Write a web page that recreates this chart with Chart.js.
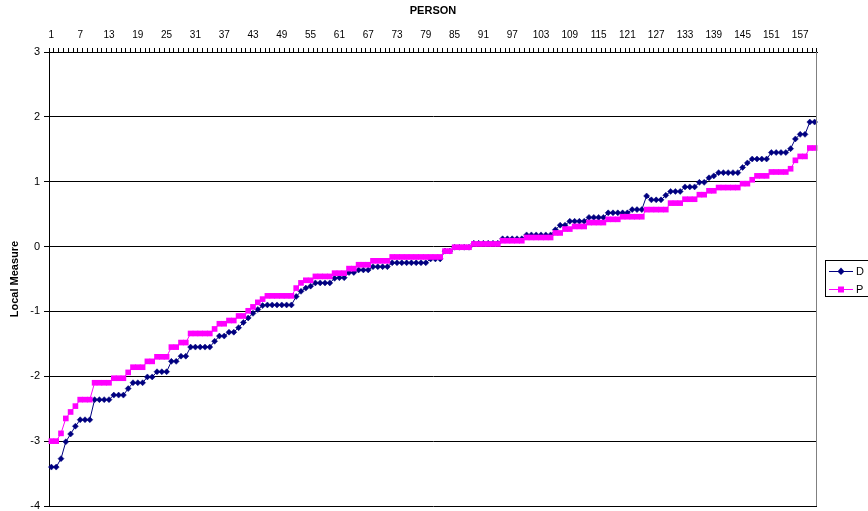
<!DOCTYPE html>
<html>
<head>
<meta charset="utf-8">
<script src="https://cdn.jsdelivr.net/npm/chart.js@4.4.0/dist/chart.umd.min.js"></script>
<style>
  html, body { margin: 0; padding: 0; background: #fff; }
  #wrap { width: 868px; height: 511px; position: relative; }
</style>
</head>
<body>
<div id="wrap"><canvas id="measureChart"></canvas></div>
<script>
// persons 1..160 along the top axis
const persons = Array.from({length: 160}, (_, i) => String(i + 1));
const shownTicks = ['1','7','13','19','25','31','37','43','49','55','61','67','73','79','85','91','97','103','109','115','121','127','133','139','145','151','157'];

const dValues = [
  -3.40,-3.40,-3.27,-3.01,-2.89,-2.77,-2.67,-2.67,-2.67,-2.36,
  -2.36,-2.36,-2.36,-2.29,-2.29,-2.29,-2.19,-2.10,-2.10,-2.10,
  -2.01,-2.01,-1.93,-1.93,-1.93,-1.77,-1.77,-1.69,-1.69,-1.55,
  -1.55,-1.55,-1.55,-1.55,-1.46,-1.38,-1.38,-1.32,-1.32,-1.25,
  -1.17,-1.10,-1.03,-0.97,-0.91,-0.90,-0.90,-0.90,-0.90,-0.90,
  -0.90,-0.77,-0.69,-0.64,-0.61,-0.56,-0.56,-0.56,-0.56,-0.49,
  -0.48,-0.48,-0.40,-0.40,-0.36,-0.36,-0.36,-0.31,-0.31,-0.31,
  -0.31,-0.25,-0.25,-0.25,-0.25,-0.25,-0.25,-0.25,-0.25,-0.19,
  -0.19,-0.19,-0.07,-0.07,-0.01,-0.01,-0.01,-0.01,0.05,0.05,
  0.05,0.05,0.05,0.05,0.12,0.12,0.12,0.12,0.12,0.18,
  0.18,0.18,0.18,0.18,0.18,0.26,0.33,0.33,0.39,0.39,
  0.39,0.39,0.45,0.45,0.45,0.45,0.52,0.52,0.52,0.52,
  0.52,0.57,0.57,0.57,0.78,0.72,0.72,0.72,0.79,0.85,
  0.85,0.85,0.92,0.92,0.92,0.99,0.99,1.06,1.09,1.14,
  1.14,1.14,1.14,1.14,1.22,1.29,1.35,1.35,1.35,1.35,
  1.45,1.45,1.45,1.45,1.51,1.66,1.73,1.73,1.92,1.92
];

const pValues = [
  -3.00,-3.00,-2.88,-2.65,-2.55,-2.46,-2.36,-2.36,-2.36,-2.10,
  -2.10,-2.10,-2.10,-2.03,-2.03,-2.03,-1.94,-1.86,-1.86,-1.86,
  -1.77,-1.77,-1.70,-1.70,-1.70,-1.55,-1.55,-1.48,-1.48,-1.34,
  -1.34,-1.34,-1.34,-1.34,-1.27,-1.19,-1.19,-1.14,-1.14,-1.07,
  -1.07,-0.99,-0.93,-0.86,-0.81,-0.76,-0.76,-0.76,-0.76,-0.76,
  -0.76,-0.64,-0.56,-0.52,-0.52,-0.46,-0.46,-0.46,-0.46,-0.41,
  -0.41,-0.41,-0.34,-0.34,-0.28,-0.28,-0.28,-0.22,-0.22,-0.22,
  -0.22,-0.16,-0.16,-0.16,-0.16,-0.16,-0.16,-0.16,-0.16,-0.16,
  -0.16,-0.16,-0.07,-0.07,-0.01,-0.01,-0.01,-0.01,0.04,0.04,
  0.04,0.04,0.04,0.04,0.09,0.09,0.09,0.09,0.09,0.14,
  0.14,0.14,0.14,0.14,0.14,0.21,0.21,0.27,0.27,0.31,
  0.31,0.31,0.37,0.37,0.37,0.37,0.42,0.42,0.42,0.46,
  0.46,0.46,0.46,0.46,0.57,0.57,0.57,0.57,0.57,0.67,
  0.67,0.67,0.73,0.73,0.73,0.80,0.80,0.86,0.86,0.91,
  0.91,0.91,0.91,0.91,0.97,0.97,1.03,1.09,1.09,1.09,
  1.15,1.15,1.15,1.15,1.20,1.33,1.39,1.39,1.52,1.52
];

const navy = '#000080';
const magenta = '#FF00FF';
const FONT = "'Liberation Sans', Arial, sans-serif";

// right border of the plot + the boxed legend, Excel style
const extras = {
  id: 'extras',
  afterDraw(chart) {
    const ctx = chart.ctx;
    const a = chart.chartArea;
    ctx.save();
    ctx.strokeStyle = '#808080';
    ctx.lineWidth = 1;
    ctx.beginPath();
    ctx.moveTo(Math.round(a.right) - 0.5, a.top);
    ctx.lineTo(Math.round(a.right) - 0.5, a.bottom);
    ctx.stroke();

    // legend box
    ctx.strokeStyle = '#000';
    ctx.strokeRect(825.5, 260.5, 60, 36);
    const items = [
      {label: 'D', color: navy, y: 271, shape: 'diamond'},
      {label: 'P', color: magenta, y: 289, shape: 'square'}
    ];
    ctx.font = '11px ' + FONT;
    ctx.textBaseline = 'middle';
    items.forEach(it => {
      ctx.strokeStyle = it.color;
      ctx.beginPath();
      ctx.moveTo(829, it.y + 0.5);
      ctx.lineTo(853, it.y + 0.5);
      ctx.stroke();
      ctx.fillStyle = it.color;
      ctx.beginPath();
      if (it.shape === 'diamond') {
        ctx.moveTo(841, it.y - 3.5);
        ctx.lineTo(844.5, it.y + 0.5);
        ctx.lineTo(841, it.y + 4);
        ctx.lineTo(837.5, it.y + 0.5);
        ctx.closePath();
      } else {
        ctx.rect(838, it.y - 2.5, 6, 6);
      }
      ctx.fill();
      ctx.fillStyle = '#000';
      ctx.fillText(it.label, 856, it.y + 1);
    });
    ctx.restore();
  }
};

new Chart(document.getElementById('measureChart'), {
  type: 'line',
  data: {
    labels: persons,
    datasets: [
      {
        label: 'D',
        data: dValues,
        order: 1,
        borderColor: navy,
        backgroundColor: navy,
        borderWidth: 1,
        pointStyle: 'rectRot',
        pointRadius: 3,
        pointBorderWidth: 0.5,
        pointBorderColor: navy,
        pointBackgroundColor: navy,
        tension: 0
      },
      {
        label: 'P',
        data: pValues,
        order: 0,
        borderColor: magenta,
        backgroundColor: magenta,
        borderWidth: 1,
        pointStyle: 'rect',
        pointRadius: 4,
        pointBorderWidth: 0,
        pointBackgroundColor: magenta,
        tension: 0
      }
    ]
  },
  options: {
    responsive: true,
    maintainAspectRatio: false,
    animation: false,
    layout: { padding: { right: 51, bottom: 5, top: 0, left: 0 } },
    plugins: {
      legend: { display: false },
      tooltip: { enabled: false }
    },
    scales: {
      x: {
        type: 'category',
        position: 'top',
        offset: true,
        afterFit: s => { s.height = 52; },
        grid: {
          offset: true,
          drawOnChartArea: false,
          drawTicks: true,
          tickLength: 4,
          color: '#000',
          lineWidth: 1
        },
        border: { color: '#000', width: 1 },
        ticks: {
          autoSkip: false,
          maxRotation: 0,
          minRotation: 0,
          padding: 7,
          color: '#000',
          font: { family: FONT, size: 10 },
          callback: function (val, idx) {
            const lab = this.getLabelForValue(val);
            return shownTicks.includes(lab) ? lab : '';
          }
        },
        title: {
          display: true,
          text: 'PERSON',
          color: '#000',
          font: { family: FONT, size: 11, weight: 'bold' },
          padding: { top: 4, bottom: 0 }
        }
      },
      y: {
        min: -4,
        max: 3,
        afterFit: s => { s.width = 49; s.paddingTop = 0; s.paddingBottom = 0; },
        grid: {
          color: '#000',
          lineWidth: 1,
          tickLength: 5
        },
        border: { color: '#000', width: 1 },
        ticks: {
          stepSize: 1,
          padding: 4,
          color: '#000',
          font: { family: FONT, size: 11 }
        },
        title: {
          display: true,
          text: 'Local Measure',
          color: '#000',
          font: { family: FONT, size: 11, weight: 'bold' },
          padding: { top: 8, bottom: 0 }
        }
      }
    }
  },
  plugins: [extras]
});
</script>
</body>
</html>
